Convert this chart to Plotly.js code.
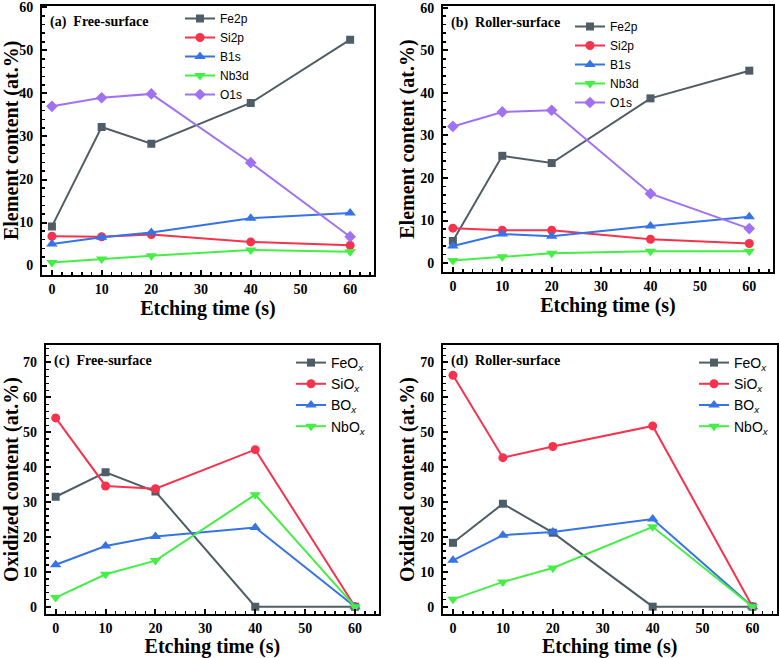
<!DOCTYPE html>
<html>
<head>
<meta charset="utf-8">
<script src="https://cdn.plot.ly/plotly-3.0.1.min.js"></script>
<style>html,body{margin:0;padding:0;background:#fff;}#chart{width:780px;height:658px;}</style>
</head>
<body>
<div id="chart"></div>
<script>
// ---- data ----
const etchTime = [0, 10, 20, 40, 60];

// (a) Free-surface element content
const freeFe2p = [9.1, 32.2, 28.3, 37.8, 52.5];
const freeSi2p = [6.8, 6.7, 7.2, 5.5, 4.7];
const freeB1s  = [5.0, 6.6, 7.7, 11.0, 12.2];
const freeNb3d = [0.7, 1.5, 2.3, 3.6, 3.2];
const freeO1s  = [37.0, 39.0, 39.9, 23.9, 6.7];

// (b) Roller-surface element content
const rollFe2p = [5.2, 25.2, 23.5, 38.7, 45.2];
const rollSi2p = [8.2, 7.7, 7.7, 5.6, 4.6];
const rollB1s  = [4.0, 6.8, 6.3, 8.7, 10.9];
const rollNb3d = [0.6, 1.5, 2.3, 2.8, 2.8];
const rollO1s  = [32.1, 35.5, 35.9, 16.3, 8.1];

// (c) Free-surface oxidized content
const freeFeOx = [31.5, 38.5, 33.0, 0, 0];
const freeSiOx = [54.1, 34.6, 33.8, 45.0, 0];
const freeBOx  = [12.0, 17.4, 20.1, 22.7, 0];
const freeNbOx = [2.6, 9.3, 13.2, 32.1, 0];

// (d) Roller-surface oxidized content
const rollFeOx = [18.3, 29.5, 21.2, 0, 0];
const rollSiOx = [66.3, 42.7, 45.9, 51.8, 0];
const rollBOx  = [13.3, 20.5, 21.4, 25.1, 0];
const rollNbOx = [2.1, 7.1, 11.1, 22.9, 0];

const elemNames = ['Fe2p', 'Si2p', 'B1s', 'Nb3d', 'O1s'];
const oxNames = ['FeO<sub><i>x</i></sub>', 'SiO<sub><i>x</i></sub>', 'BO<sub><i>x</i></sub>', 'NbO<sub><i>x</i></sub>'];
const panelLabels = ['(a)  Free-surface', '(b)  Roller-surface', '(c)  Free-surface', '(d)  Roller-surface'];

// ---- styles ----
const colors = ['#4f5e66', '#f5334d', '#3573e6', '#45ee45', '#a072f2'];
const symbols = ['square', 'circle', 'triangle-up', 'triangle-down', 'diamond'];
const msizes = [8, 9, 10, 10, 9];
const serif = 'Liberation Serif, Times New Roman, serif';
const sans = 'Liberation Sans, Arial, sans-serif';

function mk(x, y, i, name, xa, ya, leg) {
  return {
    x: x, y: y, name: name, type: 'scatter', mode: 'lines+markers',
    xaxis: xa, yaxis: ya, legend: leg,
    line: {color: colors[i], width: 2},
    marker: {color: colors[i], symbol: symbols[i], size: msizes[i]}
  };
}

const traces = [];
[freeFe2p, freeSi2p, freeB1s, freeNb3d, freeO1s].forEach((s, i) => traces.push(mk(etchTime, s, i, elemNames[i], 'x', 'y', 'legend')));
[rollFe2p, rollSi2p, rollB1s, rollNb3d, rollO1s].forEach((s, i) => traces.push(mk(etchTime, s, i, elemNames[i], 'x2', 'y2', 'legend2')));
[freeFeOx, freeSiOx, freeBOx, freeNbOx].forEach((s, i) => traces.push(mk(etchTime, s, i, oxNames[i], 'x3', 'y3', 'legend3')));
[rollFeOx, rollSiOx, rollBOx, rollNbOx].forEach((s, i) => traces.push(mk(etchTime, s, i, oxNames[i], 'x4', 'y4', 'legend4')));

function xax(domain, anchor) {
  return {
    domain: domain, anchor: anchor, range: [-2, 64.8],
    tick0: 0, dtick: 10, ticks: 'inside', ticklen: 5, tickwidth: 2, tickcolor: '#000',
    minor: {dtick: 2, ticks: 'inside', ticklen: 3, tickwidth: 1.5, tickcolor: '#000'},
    showline: true, linewidth: 2, linecolor: '#000', mirror: true,
    showgrid: false, zeroline: false,
    tickfont: {family: serif, size: 14, color: '#000', weight: 'bold'},
    title: {text: 'Etching time (s)', font: {family: serif, size: 20, color: '#000', weight: 'bold'}, standoff: 0}
  };
}
function yax(domain, anchor, range, title) {
  return {
    domain: domain, anchor: anchor, range: range,
    tick0: 0, dtick: 10, ticks: 'inside', ticklen: 5, tickwidth: 2, tickcolor: '#000',
    minor: {dtick: 2, ticks: 'inside', ticklen: 3, tickwidth: 1.5, tickcolor: '#000'},
    showline: true, linewidth: 2, linecolor: '#000', mirror: true,
    showgrid: false, zeroline: false, ticklabelstandoff: 4,
    tickfont: {family: serif, size: 14, color: '#000', weight: 'bold'},
    title: {text: title, font: {family: serif, size: 20, color: '#000', weight: 'bold'}, standoff: 0}
  };
}
function leg(x, y, size) {
  return {x: x, y: y, xanchor: 'left', yanchor: 'top', bgcolor: 'rgba(0,0,0,0)', borderwidth: 0,
          font: {family: sans, size: size, color: '#000'}, tracegroupgap: 0};
}

const W = 780, H = 658;
const px = v => v / W, py = v => 1 - v / H;

const layout = {
  width: W, height: H, margin: {l: 0, r: 0, t: 0, b: 0},
  paper_bgcolor: '#fff', plot_bgcolor: '#fff', showlegend: true,
  xaxis: xax([px(42), px(374)], 'y'),
  yaxis: yax([py(275), py(5.7)], 'x', [-2.2, 60.4], 'Element content (at.%)'),
  xaxis2: xax([px(443), px(773)], 'y2'),
  yaxis2: yax([py(272), py(6)], 'x2', [-2.1, 60.4], 'Element content (at.%)'),
  xaxis3: xax([px(45.7), px(379)], 'y3'),
  yaxis3: yax([py(614), py(345)], 'x3', [-2.1, 75], 'Oxidized content (at.%)'),
  xaxis4: xax([px(443), px(776.5)], 'y4'),
  yaxis4: yax([py(614), py(345)], 'x4', [-2.1, 75], 'Oxidized content (at.%)'),
  legend: leg(px(180), py(4), 12),
  legend2: leg(px(570), py(12), 12),
  legend3: leg(px(291), py(347), 14),
  legend4: leg(px(694), py(347), 14),
  annotations: [
    {text: panelLabels[0], x: px(48), y: py(22), xref: 'paper', yref: 'paper', xanchor: 'left', yanchor: 'middle', showarrow: false, font: {family: serif, size: 14, color: '#000', weight: 'bold'}},
    {text: panelLabels[1], x: px(449), y: py(23), xref: 'paper', yref: 'paper', xanchor: 'left', yanchor: 'middle', showarrow: false, font: {family: serif, size: 14, color: '#000', weight: 'bold'}},
    {text: panelLabels[2], x: px(52), y: py(361), xref: 'paper', yref: 'paper', xanchor: 'left', yanchor: 'middle', showarrow: false, font: {family: serif, size: 14, color: '#000', weight: 'bold'}},
    {text: panelLabels[3], x: px(449), y: py(361), xref: 'paper', yref: 'paper', xanchor: 'left', yanchor: 'middle', showarrow: false, font: {family: serif, size: 14, color: '#000', weight: 'bold'}}
  ]
};

Plotly.newPlot('chart', traces, layout, {displayModeBar: false, staticPlot: true});
</script>
</body>
</html>
